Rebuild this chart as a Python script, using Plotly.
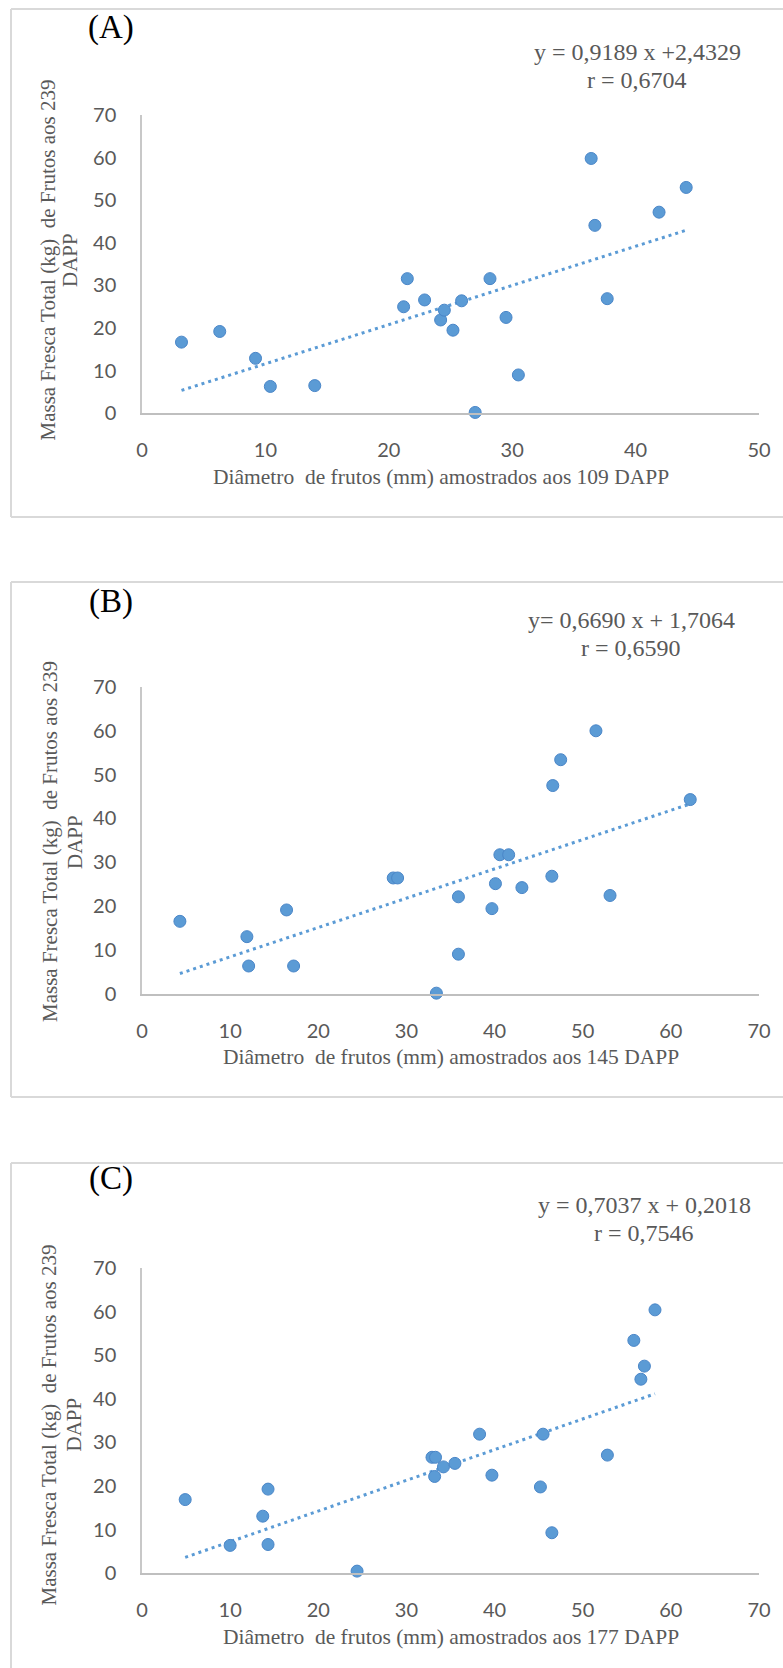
import plotly.graph_objects as go

W, H = 783, 1668

# ---------------- data ----------------
mass_A = [16.7, 19.2, 12.9, 6.3, 6.5, 25.0, 31.6, 26.6, 21.9, 24.2, 19.5, 26.4, 0.2, 31.6, 22.5, 9.0, 59.8, 44.1, 26.9, 47.2, 53.0]
diam_A = [3.2, 6.3, 9.2, 10.4, 14.0, 21.2, 21.5, 22.9, 24.2, 24.5, 25.2, 25.9, 27.0, 28.2, 29.5, 30.5, 36.4, 36.7, 37.7, 41.9, 44.1]

diam_B = [4.3, 11.9, 12.1, 16.4, 17.2, 28.5, 29.0, 33.4, 35.9, 35.9, 39.7, 40.1, 40.6, 41.6, 43.1, 46.5, 46.6, 47.5, 51.5, 53.1, 62.2]
mass_B = [16.5, 13.0, 6.3, 19.1, 6.3, 26.4, 26.4, 0.1, 22.1, 9.0, 19.4, 25.1, 31.7, 31.7, 24.2, 26.8, 47.5, 53.4, 60.0, 22.4, 44.3]

diam_C = [4.9, 10.0, 13.7, 14.3, 14.3, 24.4, 32.9, 33.3, 33.2, 34.2, 35.5, 38.3, 39.7, 45.2, 45.5, 46.5, 52.8, 55.8, 56.6, 57.0, 58.2]
mass_C = [16.9, 6.4, 13.1, 19.3, 6.6, 0.5, 26.6, 26.6, 22.2, 24.4, 25.2, 31.9, 22.5, 19.8, 31.9, 9.3, 27.1, 53.4, 44.5, 47.5, 60.4]

slopes = [0.9189, 0.6690, 0.7037]
intercepts = [2.4329, 1.7064, 0.2018]
eq_lines = [["y = 0,9189 x +2,4329", "r = 0,6704"],
            ["y= 0,6690 x + 1,7064", "r = 0,6590"],
            ["y = 0,7037 x + 0,2018", "r = 0,7546"]]
panel_labels = ["(A)", "(B)", "(C)"]
x_titles = ["Diâmetro  de frutos (mm) amostrados aos 109 DAPP",
            "Diâmetro  de frutos (mm) amostrados aos 145 DAPP",
            "Diâmetro  de frutos (mm) amostrados aos 177 DAPP"]
y_title_lines = ["Massa Fresca Total (kg)  de Frutos aos 239", "DAPP"]
x_max = [50, 70, 70]
y_max = 70

# ---------------- layout helpers ----------------
def px(x):
    return min(max(x / W, 0.0), 1.0)

def py(y):
    return min(max(1 - y / H, 0.0), 1.0)

# box: (left, top, bottom or None)
panels = [
    dict(x=(142, 759), y=(115, 413.3), box=(11, 9, 517), lab=(111, 27),
         eq=(637, 51.5, 80), xt=(441, 477), yt=(47.5, 70, 260)),
    dict(x=(142, 759), y=(687, 993.6), box=(11, 582, 1097), lab=(111, 601),
         eq=(631, 620, 648), xt=(451, 1057), yt=(50, 75, 842)),
    dict(x=(142, 759), y=(1268, 1573.3), box=(11, 1163, None), lab=(111, 1178),
         eq=(644, 1205, 1233), xt=(451, 1637), yt=(48.5, 73.5, 1425)),
]

diams = [diam_A, diam_B, diam_C]
masses = [mass_A, mass_B, mass_C]

fig = go.Figure()
TXT = "#595959"
BLUE = "#5B9BD5"
BOX = "#D9D9D9"
SERIF = "Liberation Serif, Times New Roman, serif"
SANS = "Lato, Liberation Sans, sans-serif"

annotations = []
shapes = []

def note(text, x, y, size, color=TXT, angle=0):
    annotations.append(dict(text=text, x=px(x), y=py(y), xref="paper", yref="paper",
                            showarrow=False, xanchor="center", yanchor="middle",
                            textangle=angle, font=dict(family=SERIF, size=size, color=color)))

for i, p in enumerate(panels):
    sfx = "" if i == 0 else str(i + 1)
    xa = "x" + sfx
    ya = "y" + sfx
    xs, ys = diams[i], masses[i]
    x0, x1 = min(xs), max(xs)
    fig.add_trace(go.Scatter(
        x=[x0, x1], y=[slopes[i] * x0 + intercepts[i], slopes[i] * x1 + intercepts[i]],
        mode="lines", line=dict(color=BLUE, width=3, dash="3px,4px"),
        xaxis=xa, yaxis=ya, showlegend=False, hoverinfo="skip"))
    fig.add_trace(go.Scatter(
        x=xs, y=ys, mode="markers",
        marker=dict(size=12, color=BLUE, line=dict(color="#4A86C8", width=1)),
        cliponaxis=False, xaxis=xa, yaxis=ya, showlegend=False))

    fig.update_layout(**{
        "xaxis" + sfx: dict(domain=[px(p["x"][0]), px(p["x"][1])], range=[0, x_max[i]],
                            dtick=10, tick0=0, showgrid=False, zeroline=False,
                            showline=True, linecolor="#BFBFBF", linewidth=2,
                            ticks="outside", ticklen=18, tickcolor="rgba(0,0,0,0)",
                            tickfont=dict(family=SANS, size=20, color=TXT),
                            anchor=ya, automargin=False),
        "yaxis" + sfx: dict(domain=[py(p["y"][1]), py(p["y"][0])], range=[0, y_max],
                            dtick=10, tick0=0, showgrid=False, zeroline=False,
                            showline=True, linecolor="#C8C8C8", linewidth=1.5,
                            ticks="outside", ticklen=20, tickcolor="rgba(0,0,0,0)",
                            tickfont=dict(family=SANS, size=20, color=TXT),
                            anchor=xa, automargin=False),
    })

    bl, bt, bb = p["box"]
    ln = dict(color=BOX, width=2)
    shapes.append(dict(type="line", xref="paper", yref="paper",
                       x0=px(bl), x1=1.0, y0=py(bt), y1=py(bt), line=ln))
    shapes.append(dict(type="line", xref="paper", yref="paper",
                       x0=px(bl), x1=px(bl), y0=py(bt), y1=(py(bb) if bb else 0.0), line=ln))
    if bb:
        shapes.append(dict(type="line", xref="paper", yref="paper",
                           x0=px(bl), x1=1.0, y0=py(bb), y1=py(bb), line=ln))

    note(panel_labels[i], p["lab"][0], p["lab"][1], 33, color="#000000")
    note(eq_lines[i][0], p["eq"][0], p["eq"][1], 24)
    note(eq_lines[i][1], p["eq"][0], p["eq"][2], 24)
    note(x_titles[i], p["xt"][0], p["xt"][1], 21.5)
    note(y_title_lines[0], p["yt"][0], p["yt"][2], 21, angle=-90)
    note(y_title_lines[1], p["yt"][1], p["yt"][2], 21, angle=-90)

fig.update_layout(width=W, height=H, margin=dict(l=0, r=0, t=0, b=0, autoexpand=False),
                  paper_bgcolor="white", plot_bgcolor="white",
                  annotations=annotations, shapes=shapes)

fig.write_html("out.html", config={"displayModeBar": False},
               post_script="document.body.style.margin='0px';document.body.style.overflow='hidden';")
